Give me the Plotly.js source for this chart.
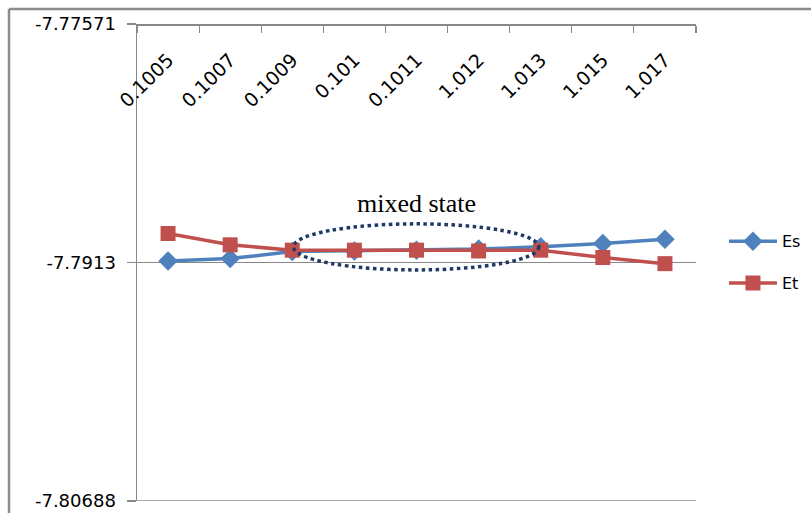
<!DOCTYPE html>
<html>
<head>
<meta charset="utf-8">
<script src="https://cdn.plot.ly/plotly-3.0.1.min.js"></script>
<style>
  html, body { margin: 0; padding: 0; background: #fff; }
  #chart { width: 811px; height: 513px; }
</style>
</head>
<body>
<div id="chart"></div>
<script>
const categories = ["0.1005", "0.1007", "0.1009", "0.101", "0.1011", "1.012", "1.013", "1.015", "1.017"];
const esValues = [-7.79119, -7.79104, -7.79058, -7.79054, -7.79049, -7.79042, -7.79027, -7.79006, -7.78977];
const etValues = [-7.78940, -7.79014, -7.79049, -7.79049, -7.79049, -7.79054, -7.79049, -7.79097, -7.79137];
const yTickValues = [-7.80688, -7.7913, -7.77571];
const yTickLabels = ["-7.80688", "-7.7913", "-7.77571"];
const noteText = "mixed state";

const traces = [
  {
    x: categories, y: esValues, name: "Es", type: "scatter", mode: "lines+markers",
    legendgroup: "es",
    line: { color: "#4f81bd", width: 3.5 },
    marker: { symbol: "diamond", size: 15, color: "#4f81bd" }
  },
  {
    x: categories, y: etValues, name: "Et", type: "scatter", mode: "lines+markers",
    legendgroup: "et",
    line: { color: "#c0504d", width: 3.5 },
    marker: { symbol: "square", size: 15, color: "#c0504d" }
  }
];

const layout = {
  width: 811, height: 513,
  margin: { l: 137, r: 115, t: 24, b: 12, pad: 0, autoexpand: false },
  paper_bgcolor: "#ffffff", plot_bgcolor: "#ffffff",
  showlegend: true,
  legend: {
    x: 1.05, y: 0.58, xanchor: "left", yanchor: "top",
    itemwidth: 48,
    font: { family: "DejaVu Sans, sans-serif", size: 16, color: "#000" },
    tracegroupgap: 18, bgcolor: "rgba(0,0,0,0)"
  },
  xaxis: {
    type: "category",
    range: [-0.5, categories.length - 0.5],
    anchor: "free", position: 1, side: "bottom",
    automargin: false,
    showline: true, linecolor: "#888888", linewidth: 1.5,
    ticks: "outside", ticklen: 7, tickcolor: "#888888", tickwidth: 1.2,
    tickson: "boundaries",
    tickangle: -45,
    ticklabelstandoff: 16,
    showgrid: false, zeroline: false,
    tickfont: { family: "DejaVu Sans, sans-serif", size: 19, color: "#000" }
  },
  yaxis: {
    range: [-7.80688, -7.77571],
    automargin: false,
    tickmode: "array", tickvals: yTickValues, ticktext: yTickLabels,
    showline: true, linecolor: "#888888", linewidth: 1.5,
    ticks: "outside", ticklen: 9, tickcolor: "#888888", tickwidth: 1.5,
    ticklabelstandoff: 7,
    showgrid: true, gridcolor: "#888888", gridwidth: 1.5,
    zeroline: false,
    tickfont: { family: "DejaVu Sans, sans-serif", size: 18, color: "#000" }
  },
  shapes: [
    { type: "line", xref: "paper", yref: "y", x0: 0, x1: 1, y0: yTickValues[0], y1: yTickValues[0],
      line: { color: "#888888", width: 1.5 }, layer: "below" },
    { type: "circle", xref: "x", yref: "y", x0: 2.02, x1: 5.97, y0: -7.79178, y1: -7.78877,
      line: { color: "#1f3864", width: 3.5, dash: "dot" }, fillcolor: "rgba(0,0,0,0)", layer: "above" },
    { type: "line", xref: "paper", yref: "paper", x0: -0.229, x1: 1.3, y0: 1.0314, y1: 1.0314,
      line: { color: "#8c8c8c", width: 2.5 } },
    { type: "line", xref: "paper", yref: "paper", x0: -0.229, x1: -0.229, y0: -0.1, y1: 1.0314,
      line: { color: "#8c8c8c", width: 2.5 } }
  ],
  annotations: [
    { text: noteText, xref: "x", yref: "y", x: 4, y: -7.78745, showarrow: false,
      font: { family: "Liberation Serif, Times New Roman, serif", size: 26, color: "#000" } }
  ]
};

Plotly.newPlot("chart", traces, layout, { displayModeBar: false, staticPlot: true });
</script>
</body>
</html>
